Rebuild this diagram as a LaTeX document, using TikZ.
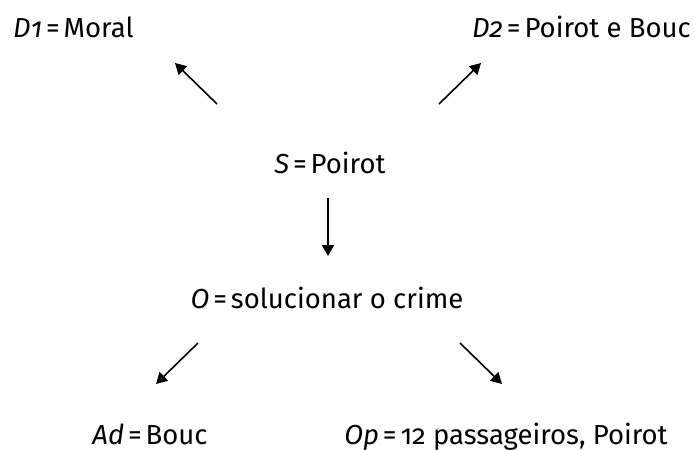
\documentclass[tikz,border=0pt]{standalone}
\usepackage{fontspec}
\setmainfont{Fira Sans}[Numbers=OldStyle]
\usetikzlibrary{arrows.meta}

\newcommand{\eq}{\hspace{0.14em}=\hspace{0.14em}}

\tikzset{
  actant/.style={inner sep=0pt, font=\fontsize{27.5}{32}\selectfont},
  seta/.style={line width=1.6pt, -{Triangle[length=11pt,width=12pt]}}
}

\begin{document}
\begin{tikzpicture}[x=1pt,y=-1pt]
\useasboundingbox (0,0) rectangle (694,450);

\node[actant, anchor=base west] (d1) at (13,37) {\textit{D1}\eq Moral};
\node[actant, anchor=base east] (d2) at (691,37) {\textit{D2}\eq Poirot e Bouc};
\node[actant, anchor=base] (s) at (330,173) {\textit{S}\eq Poirot};
\node[actant, anchor=base] (o) at (327,308) {\textit{O}\eq solucionar o crime};
\node[actant, anchor=base] (ad) at (150,444) {\textit{Ad}\eq Bouc};
\node[actant, anchor=base] (op) at (506,444) {\textit{Op}\eq 12 passageiros, Poirot};

\coordinate (d1a) at (217,104);
\coordinate (d1b) at (175,63);
\coordinate (d2a) at (439,104);
\coordinate (d2b) at (481,63);
\coordinate (sa) at (328,198);
\coordinate (sb) at (328,256);
\coordinate (ada) at (198,343);
\coordinate (adb) at (156,384);
\coordinate (opa) at (460,343);
\coordinate (opb) at (502,384);

\draw[seta] (d1a) -- (d1b);
\draw[seta] (d2a) -- (d2b);
\draw[seta] (sa) -- (sb);
\draw[seta] (ada) -- (adb);
\draw[seta] (opa) -- (opb);
\end{tikzpicture}
\end{document}
